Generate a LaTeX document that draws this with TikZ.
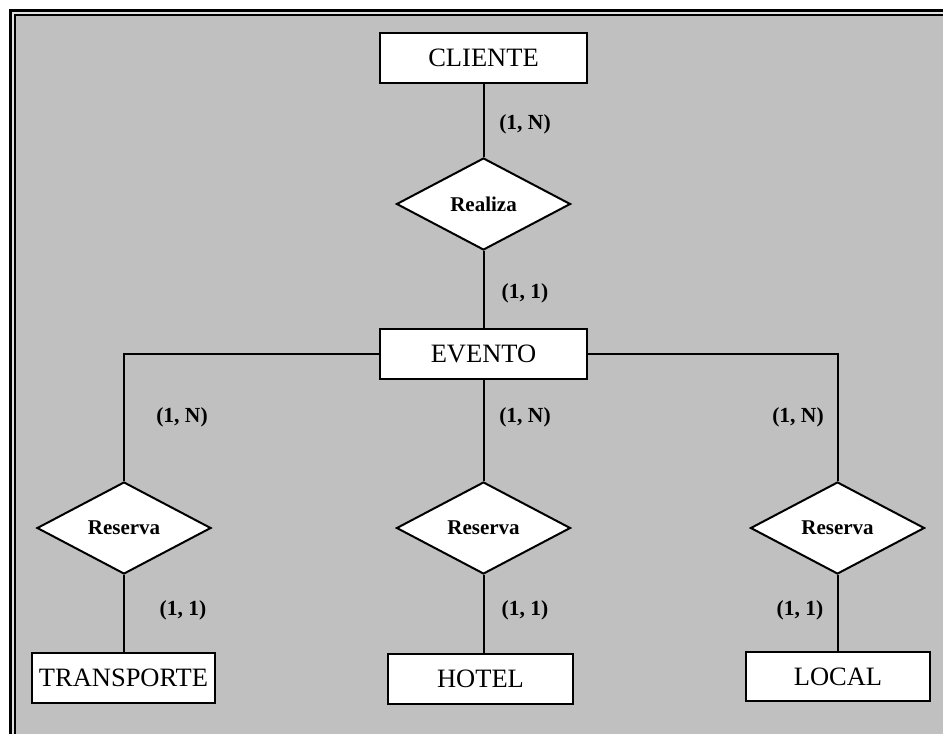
\documentclass[tikz,border=0pt]{standalone}
\usepackage{fontspec}
\setmainfont{Liberation Serif}
\usetikzlibrary{shapes.geometric}
\definecolor{bg}{HTML}{C0C0C0}
\definecolor{gap}{HTML}{E0E0E0}
\tikzset{
  entity/.style={draw=black, fill=white, line width=2.2pt, rectangle, inner sep=0pt,
    minimum height=50pt, font=\fontsize{26.5}{31}\selectfont},
  rel/.style={draw=black, fill=white, line width=2pt, diamond, inner sep=0pt,
    minimum width=174pt, minimum height=92pt, font=\fontsize{21}{25}\selectfont\bfseries},
  card/.style={font=\fontsize{21.5}{25}\selectfont\bfseries, inner sep=0pt},
  conn/.style={draw=black, line width=2pt}
}
\begin{document}
\begin{tikzpicture}[x=1pt,y=-1pt]
\useasboundingbox (0,0) rectangle (943,734);
\begin{scope}
\clip (0,0) rectangle (943,734);
\fill[white] (0,0) rectangle (943,734);
\filldraw[fill=gap, draw=black, line width=3pt] (10.8,10.5) rectangle (980,780);
\filldraw[fill=bg, draw=black, line width=2.5pt] (15.2,15.2) rectangle (980,780);
\end{scope}

\node[entity, minimum width=207pt] (cli) at (483.5,58) {CLIENTE};
\node[rel] (rea) at (483.5,204) {Realiza};
\node[entity, minimum width=207pt] (evt) at (483.5,354) {EVENTO};
\node[rel] (r1) at (124,528) {Reserva};
\node[rel] (r2) at (483.5,528) {Reserva};
\node[rel] (r3) at (837.5,528) {Reserva};
\node[entity, minimum width=183pt] (tra) at (123.5,678) {TRANSPORTE};
\node[entity, minimum width=185pt] (hot) at (480.5,679) {HOTEL};
\node[entity, minimum width=184pt, minimum height=49pt] (loc) at (838,676.5) {LOCAL};

\draw[conn] (cli.south) -- (rea.north);
\draw[conn] (rea.south) -- (evt.north);
\draw[conn] (evt.west) -| (r1.north);
\draw[conn] (evt.east) -| (r3.north);
\draw[conn] (evt.south) -- (r2.north);
\draw[conn] (r1.south) -- (r1.south |- tra.north);
\draw[conn] (r2.south) -- (r2.south |- hot.north);
\draw[conn] (r3.south) -- (r3.south |- loc.north);

\node[card] (c1) at (525,124) {(1, N)};
\node[card] (c2) at (525,293) {(1, 1)};
\node[card] (c3) at (182,417) {(1, N)};
\node[card] (c4) at (525,417) {(1, N)};
\node[card] (c5) at (798,417) {(1, N)};
\node[card] (c6) at (183,610) {(1, 1)};
\node[card] (c7) at (525,610) {(1, 1)};
\node[card] (c8) at (800,610) {(1, 1)};
\end{tikzpicture}
\end{document}
